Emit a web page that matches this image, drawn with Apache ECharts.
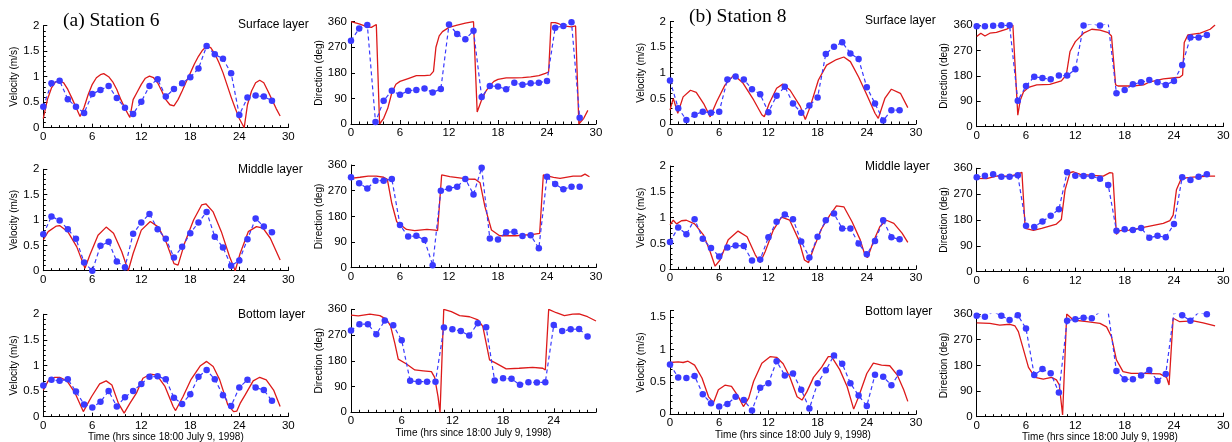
<!DOCTYPE html>
<html><head><meta charset="utf-8">
<script src="https://cdn.jsdelivr.net/npm/echarts/dist/echarts.min.js"></script>
<style>html,body{margin:0;padding:0;background:#fff}#c{width:1232px;height:442px}</style>
</head><body><div id="c"></div>
<script>
// ---------- DATA ----------
const hours = [0,1,2,3,4,5,6,7,8,9,10,11,12,13,14,15,16,17,18,19,20,21,22,23,24,25,26,27,28];
const xTickInterval = 6;
const velTicks = [0, 0.5, 1, 1.5, 2];
const dirTicks = [0, 90, 180, 270, 360];

// Station 6 - surface
const s6SurfVelObs = [0.41,0.87,0.92,0.56,0.41,0.29,0.66,0.74,0.82,0.58,0.39,0.27,0.51,0.82,0.95,0.61,0.76,0.87,0.99,1.16,1.60,1.44,1.35,1.07,0.25,0.59,0.63,0.61,0.53];
const s6SurfVelMod = [[0,0.18],[0.5,0.55],[1,0.78],[1.5,0.9],[2,0.92],[2.5,0.88],[3,0.75],[3.5,0.58],[4,0.4],[4.5,0.22],[5,0.4],[5.5,0.65],[6,0.85],[6.5,0.98],[7,1.04],[7.4,1.06],[8,1.0],[8.5,0.9],[9,0.75],[9.5,0.55],[10,0.38],[10.6,0.2],[11,0.55],[11.5,0.7],[12,0.85],[12.5,0.97],[13,1.01],[13.5,0.98],[14,0.88],[14.5,0.72],[15,0.55],[15.5,0.45],[16,0.43],[16.5,0.55],[17,0.72],[17.5,0.9],[18,1.07],[18.5,1.25],[19,1.4],[19.5,1.52],[20,1.6],[20.5,1.57],[21,1.45],[21.5,1.28],[22,1.08],[22.5,0.84],[23,0.6],[23.5,0.38],[24,0.18],[24.6,0.0],[25,0.45],[25.5,0.72],[26,0.88],[26.5,0.93],[27,0.88],[27.5,0.72],[28,0.55],[28.5,0.38],[29,0.23]];
const s6SurfDirObs = [293,336,348,7,82,117,103,117,120,125,111,123,350,317,298,328,95,134,132,122,145,138,143,145,151,339,345,358,22];
const s6SurfDirMod = [[0,360],[1,352],[2,342],[2.5,340],[3.1,350],[3.5,0],[4,20],[4.5,55],[5,110],[5.5,140],[6,150],[7,160],[8,170],[9,170],[9.7,172],[10.1,185],[10.4,270],[10.8,310],[11.2,325],[12,340],[13,348],[14,355],[15,360],[15.2,360],[15.45,42],[16,85],[16.5,115],[17,135],[17.5,150],[18,157],[19,162],[20,162],[21,163],[22,166],[23,170],[23.8,178],[24.2,183],[24.5,357],[25,357],[25.5,352],[26,345],[27,342],[27.5,345],[27.9,0],[28.5,20],[29,48]];

// Station 6 - middle
const s6MidVelObs = [0.72,1.07,0.99,0.82,0.63,0.16,0.0,0.49,0.57,0.18,0.07,0.73,0.95,1.12,0.82,0.63,0.26,0.47,0.74,0.95,1.16,0.67,0.46,0.10,0.20,0.62,1.03,0.87,0.76];
const s6MidVelMod = [[0,0.61],[0.6,0.77],[1.6,0.88],[2,0.89],[3,0.77],[4.1,0.47],[5.1,0.05],[5.7,0.31],[6.7,0.70],[7.7,0.86],[8.6,0.74],[9.6,0.38],[10.4,0.0],[11,0.34],[12,0.80],[13.1,0.97],[14.1,0.86],[15.1,0.54],[16,0.14],[16.5,0.11],[17.3,0.54],[18.4,1.0],[19.4,1.30],[19.9,1.32],[20.8,1.16],[21.8,0.77],[22.8,0.28],[23.5,0.0],[24.1,0.34],[25.1,0.77],[26.1,0.87],[26.9,0.84],[27.8,0.64],[29,0.21]];
const s6MidDirObs = [317,296,278,305,305,311,150,109,112,97,9,270,278,284,311,257,350,102,99,124,126,111,114,68,319,293,275,284,284];
const s6MidDirMod = [[0,313],[1.1,317],[2.1,321],[3.1,321],[4,317],[4.45,310],[5,225],[5.6,161],[6.8,134],[7.8,130],[9.3,134],[10.3,132],[10.6,130],[11.1,325],[12.1,319],[14.2,311],[15.2,310],[15.8,298],[16.4,214],[17.2,132],[18.2,112],[20.2,112],[22.3,117],[23.1,120],[23.55,325],[24.8,317],[25.6,313],[27.2,321],[28.2,321],[28.65,328],[29.2,319]];

// Station 6 - bottom
const s6BotVelObs = [0.61,0.72,0.70,0.73,0.49,0.24,0.18,0.29,0.50,0.20,0.38,0.50,0.64,0.78,0.79,0.73,0.37,0.25,0.44,0.78,0.91,0.73,0.42,0.21,0.57,0.72,0.57,0.52,0.31];
const s6BotVelMod = [[0,0.52],[0.6,0.70],[1.4,0.77],[2,0.77],[2.9,0.70],[3.9,0.46],[4.9,0.10],[5,0.07],[5.9,0.39],[6.9,0.64],[7.7,0.70],[8.4,0.62],[9.2,0.26],[9.9,0.07],[10.6,0.26],[11.4,0.46],[12.2,0.75],[13.1,0.83],[13.9,0.81],[14.9,0.59],[15.9,0.20],[16.2,0.12],[17.1,0.39],[18.1,0.73],[19.2,0.99],[20,1.08],[20.8,0.98],[21.6,0.72],[22.6,0.23],[23.3,0.10],[23.7,0.11],[24.1,0.26],[24.7,0.42],[25.7,0.70],[26.5,0.77],[27.3,0.72],[28.2,0.52],[29,0.20]];
const s6BotDirObs = [286,308,308,273,321,304,252,110,107,107,107,296,290,284,268,311,297,111,119,117,96,105,104,105,305,284,290,291,265];
const s6BotDirMod = [[0,340],[0.87,337],[2.24,343],[3.42,338],[4.2,325],[4.68,302],[5.19,241],[5.59,186],[6.57,169],[7.55,148],[8.54,145],[9.52,142],[9.9,122],[10.3,55],[10.54,0],[10.98,360],[11.88,352],[12.86,338],[14.04,334],[15.03,323],[15.6,300],[16.4,183],[17.2,171],[18.37,152],[19.9,154],[21.5,157],[22.7,154],[23,148],[23.4,360],[24.3,348],[25.26,338],[26.24,343],[27,344],[28,334],[29,319]];

// Station 8 - surface
const s8SurfVelObs = [0.85,0.31,0.08,0.18,0.24,0.22,0.24,0.87,0.93,0.87,0.68,0.58,0.23,0.55,0.73,0.40,0.22,0.36,0.52,1.37,1.51,1.60,1.38,1.27,0.72,0.40,0.07,0.27,0.27];
const s8SurfVelMod = [[0,0.27],[0.4,0.5],[0.95,0.21],[1.6,0.53],[2.5,0.66],[3.2,0.62],[4.1,0.40],[4.9,0.14],[5.7,0.44],[6.7,0.76],[7.8,0.96],[8.9,0.80],[10.2,0.47],[11.2,0.18],[11.5,0.14],[12.1,0.40],[13,0.70],[13.75,0.78],[14.65,0.66],[15.9,0.34],[16.5,0.09],[17.1,0.34],[18.1,0.86],[19.1,1.15],[20.3,1.26],[21.2,1.31],[22,1.22],[23,0.92],[24,0.57],[25,0.21],[25.4,0.11],[26.2,0.50],[27,0.68],[28.1,0.60],[29,0.32]];
const s8SurfDirObs = [356,356,357,359,359,92,144,177,172,168,181,181,203,358,364,358,366,118,130,150,157,165,157,148,162,218,316,316,325];
const s8SurfDirMod = [[0,319],[0.5,331],[1,321],[1.6,331],[2.4,334],[3.65,345],[4.4,360],[5.0,41],[5.3,94],[5.7,124],[6.3,139],[7.3,148],[8.9,150],[10.3,162],[10.9,183],[11.35,266],[12,301],[13,331],[14,345],[15,342],[16,333],[16.4,321],[16.9,148],[17.2,144],[18.9,144],[20.3,148],[21.1,159],[22.7,169],[24.7,175],[25.05,183],[25.25,298],[25.7,325],[27.2,331],[28.4,345],[29,360]];

// Station 8 - middle
const s8MidVelObs = [0.53,0.81,0.68,0.97,0.59,0.41,0.25,0.42,0.46,0.45,0.17,0.19,0.62,0.92,1.06,0.97,0.54,0.23,0.63,0.95,1.08,0.79,0.79,0.50,0.29,0.55,0.95,0.62,0.58];
const s8MidVelMod = [[0,0.86],[0.4,0.95],[0.8,0.88],[1.4,0.94],[2,0.95],[3,0.88],[4.1,0.66],[4.9,0.34],[5.5,0.06],[6.1,0.18],[7.1,0.57],[8.3,0.74],[9.4,0.63],[10.4,0.28],[11,0.13],[11.6,0.34],[12.6,0.76],[13.6,1.01],[14.6,0.95],[15.7,0.57],[16.4,0.18],[16.9,0.13],[17.6,0.44],[18.5,0.79],[19.5,1.05],[20.3,1.23],[21.2,1.21],[22.2,0.92],[23.2,0.57],[23.8,0.26],[24.1,0.23],[24.8,0.54],[25.6,0.83],[26.4,0.95],[27.3,0.89],[28.3,0.70],[29,0.52]];
const s8MidDirObs = [329,334,339,331,331,336,160,156,175,195,217,346,334,333,333,324,302,143,148,145,152,118,125,120,166,329,319,331,339];
const s8MidDirMod = [[0,325],[1.2,324],[2.4,333],[4.05,333],[4.9,339],[5.5,346],[5.9,151],[6.9,144],[7.9,151],[9.7,166],[10.3,182],[10.75,285],[11.35,345],[11.75,348],[12.6,339],[13.8,336],[15.4,333],[16.2,345],[16.55,343],[17,130],[17.4,143],[18.65,145],[20.3,154],[22.7,168],[23.5,178],[23.9,197],[24.3,285],[24.9,325],[26.3,329],[28.4,333],[29,333]];

// Station 8 - bottom
const s8BotVelObs = [0.77,0.57,0.56,0.59,0.31,0.17,0.12,0.16,0.27,0.22,0.06,0.41,0.48,0.82,0.60,0.63,0.38,0.09,0.48,0.68,0.91,0.78,0.48,0.29,0.13,0.61,0.58,0.45,0.64];
const s8BotVelMod = [[0,0.80],[1,0.81],[1.6,0.80],[2.2,0.82],[3,0.76],[3.9,0.56],[4.7,0.27],[5.3,0.18],[5.9,0.38],[6.7,0.45],[7.5,0.43],[8.3,0.28],[8.95,0.12],[9.6,0.25],[10.2,0.51],[11.2,0.79],[12.2,0.89],[13,0.88],[13.8,0.78],[14.6,0.58],[15.5,0.27],[16.1,0.22],[16.7,0.35],[17.5,0.57],[18.5,0.73],[19.3,0.89],[19.7,0.89],[20.7,0.69],[21.6,0.43],[22.4,0.08],[23,0.27],[24,0.63],[24.8,0.79],[25.8,0.76],[26.8,0.75],[27.7,0.61],[28.5,0.38],[29,0.20]];
const s8BotDirObs = [354,350,368,354,339,356,309,146,167,152,85,336,342,347,345,368,366,160,131,131,144,164,125,150,365,356,336,366,359];
const s8BotDirMod = [[0,329],[1.6,327],[2.8,321],[4.05,324],[4.66,318],[5.07,298],[5.7,234],[6.3,173],[7.1,138],[8.1,132],[9.1,138],[9.7,129],[10.05,111],[10.45,6],[10.95,360],[11.75,339],[13.4,333],[15,327],[15.8,315],[16.4,280],[17,199],[17.8,158],[18.8,152],[20.3,152],[22.3,150],[23.1,138],[23.4,111],[23.9,345],[24.7,333],[26.35,336],[27.55,329],[29,318]];

// ---------- LAYOUT ----------
const SANS = '"Liberation Sans", Arial, Helvetica, sans-serif';
const SERIF = '"Liberation Serif", "Times New Roman", serif';
const RED = '#dd1a1a', BLUE = '#3a3aff';

const panels = [
  {g:[43.3,25.7,245,102], kind:'vel', yMax:2,   xMax:30, obs:s6SurfVelObs, mod:s6SurfVelMod, gap:22},
  {g:[351,21.7,245,102.3], kind:'dir', yMax:360, xMax:30, obs:s6SurfDirObs, mod:s6SurfDirMod, gap:26},
  {g:[670,21.7,246,102.3], kind:'vel', yMax:2,   xMax:30, obs:s8SurfVelObs, mod:s8SurfVelMod, gap:23},
  {g:[976.7,25,246.6,101.7], kind:'dir', yMax:360, xMax:30, obs:s8SurfDirObs, mod:s8SurfDirMod, gap:25},
  {g:[43.3,169.3,245,101.4], kind:'vel', yMax:2,   xMax:30, obs:s6MidVelObs, mod:s6MidVelMod, gap:22},
  {g:[351,165,245,102.7], kind:'dir', yMax:360, xMax:30, obs:s6MidDirObs, mod:s6MidDirMod, gap:26},
  {g:[670,166,246,103.3], kind:'vel', yMax:2,   xMax:30, obs:s8MidVelObs, mod:s8MidVelMod, gap:23},
  {g:[976.7,168.3,246.6,103.4], kind:'dir', yMax:360, xMax:30, obs:s8MidDirObs, mod:s8MidDirMod, gap:25},
  {g:[43.3,314.3,245,102.4], kind:'vel', yMax:2,   xMax:30, obs:s6BotVelObs, mod:s6BotVelMod, gap:22, xName:true, nameGap:13.5},
  {g:[351,309.3,245,103], kind:'dir', yMax:360, xMax:29, obs:s6BotDirObs, mod:s6BotDirMod, gap:26, xName:true, nameGap:14.5, hideMax:true},
  {g:[670,310.7,246,103.6], kind:'vel', yMax:1.6, xMax:30, obs:s8BotVelObs, mod:s8BotVelMod, gap:23, xName:true, nameGap:14.5, hideYMax:true},
  {g:[976.7,314,246.6,102.7], kind:'dir', yMax:360, xMax:30, obs:s8BotDirObs, mod:s8BotDirMod, gap:25, xName:true, nameGap:13}
];

const grid = [], xAxis = [], yAxis = [], series = [];
const axisLineStyle = {color:'#000', width:1};
panels.forEach((p, i) => {
  grid.push({left:p.g[0], top:p.g[1], width:p.g[2], height:p.g[3], outerBoundsMode:'none', containLabel:false});
  xAxis.push({
    type:'value', gridIndex:i, min:0, max:p.xMax, interval:xTickInterval,
    axisLine:{show:true, onZero:false, lineStyle:axisLineStyle},
    axisTick:{show:true, inside:true, length:4, lineStyle:axisLineStyle},
    minorTick:{show:true, splitNumber:6, length:2.5, lineStyle:axisLineStyle},
    splitLine:{show:false}, minorSplitLine:{show:false},
    axisLabel:{color:'#000', fontSize:11.5, fontFamily:SANS, margin:3, showMaxLabel: !p.hideMax},
    name: p.xName ? 'Time (hrs since 18:00 July 9, 1998)' : '',
    nameLocation:'middle', nameGap:p.nameGap || 14,
    nameTextStyle:{color:'#000', fontSize:10, fontFamily:SANS}
  });
  const isVel = p.kind === 'vel';
  yAxis.push({
    type:'value', gridIndex:i, min:0, max:p.yMax, interval: isVel ? velTicks[1]-velTicks[0] : dirTicks[1]-dirTicks[0],
    axisLine:{show:true, onZero:false, lineStyle:axisLineStyle},
    axisTick:{show:true, inside:true, length:4, lineStyle:axisLineStyle},
    minorTick:{show:isVel, splitNumber:5, length:2.5, lineStyle:axisLineStyle},
    splitLine:{show:false}, minorSplitLine:{show:false},
    axisLabel:{color:'#000', fontSize:11.5, fontFamily:SANS, margin:4, showMaxLabel: !p.hideYMax},
    name: isVel ? 'Velocity (m/s)' : 'Direction (deg)',
    nameLocation:'middle', nameRotate:90, nameGap:p.gap,
    nameTextStyle:{color:'#000', fontSize:10, fontFamily:SANS}
  });
  series.push({
    type:'line', xAxisIndex:i, yAxisIndex:i, data:p.mod, showSymbol:false, symbol:'none',
    lineStyle:{color:RED, width:1.3}, itemStyle:{color:RED}, clip:true, z:2, silent:true
  });
  series.push({
    type:'line', xAxisIndex:i, yAxisIndex:i, data:hours.map((h, k) => [h, p.obs[k]]),
    symbol:'circle', symbolSize:6.5, showSymbol:true,
    lineStyle:{color:BLUE, width:1.2, type:[4,3]}, itemStyle:{color:BLUE}, clip:true, z:3, silent:true
  });
});

const txt = (x, y, text, font, size) => ({type:'text', x:x, y:y, silent:true,
  style:{text:text, fill:'#000', fontSize:size, fontFamily:font, align:'left', verticalAlign:'middle'}});
const graphic = [
  txt(63, 20.5, '(a) Station 6', SERIF, 19.5),
  txt(689, 16.5, '(b) Station 8', SERIF, 19.5),
  txt(238, 24.3, 'Surface layer', SANS, 12),
  txt(865, 21, 'Surface layer', SANS, 12),
  txt(238, 169.3, 'Middle layer', SANS, 12),
  txt(865, 167, 'Middle layer', SANS, 12),
  txt(238, 314.5, 'Bottom layer', SANS, 12),
  txt(865, 312, 'Bottom layer', SANS, 12)
];

const chart = echarts.init(document.getElementById('c'), null, {renderer:'canvas'});
chart.setOption({animation:false, backgroundColor:'#fff', grid, xAxis, yAxis, series, graphic, tooltip:{show:false}});
</script>
</body></html>
